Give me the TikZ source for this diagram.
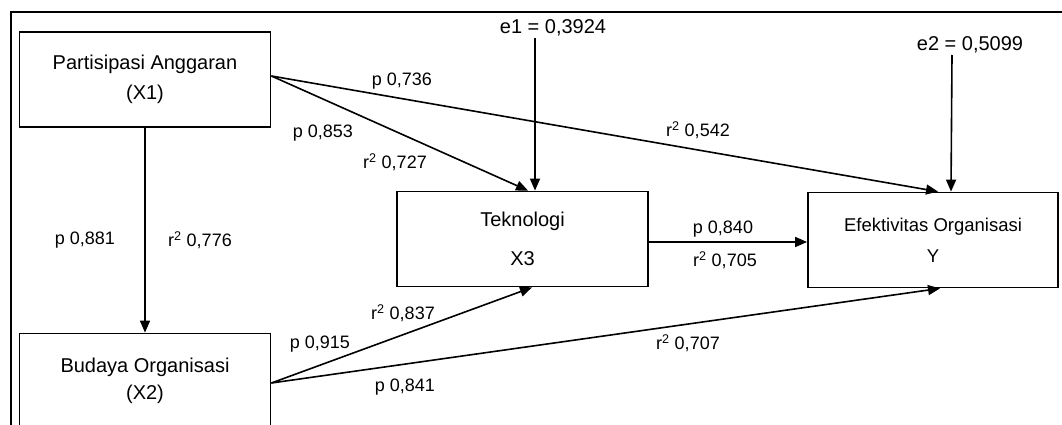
\documentclass[tikz,border=0pt]{standalone}
\usepackage{fontspec}
\setmainfont{Liberation Sans}
\usetikzlibrary{arrows.meta}
\begin{document}
\begin{tikzpicture}[x=1pt,y=-1pt,
  box/.style={draw,line width=1.8pt,minimum width=251pt,minimum height=95pt,inner sep=0pt,align=center,font=\fontsize{20}{30}\selectfont},
  lab/.style={inner sep=0pt,font=\fontsize{18}{20}\selectfont},
  elab/.style={inner sep=0pt,font=\fontsize{20}{24}\selectfont},
  arr/.style={line width=1.6pt,-{Triangle[length=12pt,width=10pt]}},
  frame/.style={line width=2.5pt}]
\useasboundingbox (0,0) rectangle (1062,425);
\clip (0,0) rectangle (1062,425);
\draw[frame] (11,440) -- (11,12) -- (1080,12);

\node[box] (X1) at (145,79.5) {Partisipasi Anggaran\\(X1)};
\node[box,font=\fontsize{20}{27}\selectfont] (X2) at (145,381) {Budaya Organisasi\\(X2)};
\node[box,font=\fontsize{20}{39}\selectfont] (X3) at (522.5,239) {Teknologi\\X3};
\node[box,minimum width=250pt,font=\fontsize{18.5}{31}\selectfont] (Y) at (933,240) {Efektivitas Organisasi\\Y};

\node[elab] (e1) at (553,28) {e1 = 0,3924};
\coordinate (e1s) at (535,38);
\node[elab] (e2) at (970,45) {e2 = 0,5099};
\coordinate (e2s) at (952,55);

\draw[arr] (e1s) -- ([xshift=12.5pt]X3.north);
\draw[arr] (e2s) -- ([xshift=18pt]Y.north);
\draw[arr] (X1) -- (X2);
\draw[arr] ([yshift=3.5pt]X1.east) -- ([xshift=5.5pt]X3.north);
\draw[arr] ([yshift=3.5pt]X1.east) -- ([xshift=5pt]Y.north);
\draw[arr] ([yshift=-3pt]X3.east) -- ([yshift=-2pt]Y.west);
\draw[arr] ([yshift=-2pt]X2.east) -- ([xshift=9.5pt]X3.south);
\draw[arr] ([yshift=-2pt]X2.east) -- ([xshift=7pt]Y.south);

\node[lab] (l1) at (402,81) {p 0,736};
\node[lab] (l2) at (323,133) {p 0,853};
\node[lab] (l3) at (395,162) {r\textsuperscript{2} 0,727};
\node[lab] (l4) at (698,130) {r\textsuperscript{2} 0,542};
\node[lab] (l5) at (85,240) {p 0,881};
\node[lab] (l6) at (200,240) {r\textsuperscript{2} 0,776};
\node[lab] (l7) at (723,229) {p 0,840};
\node[lab] (l8) at (725,260) {r\textsuperscript{2} 0,705};
\node[lab] (l9) at (403,313) {r\textsuperscript{2} 0,837};
\node[lab] (l10) at (320,344) {p 0,915};
\node[lab] (l11) at (405,387) {p 0,841};
\node[lab] (l12) at (688,343) {r\textsuperscript{2} 0,707};
\end{tikzpicture}
\end{document}
